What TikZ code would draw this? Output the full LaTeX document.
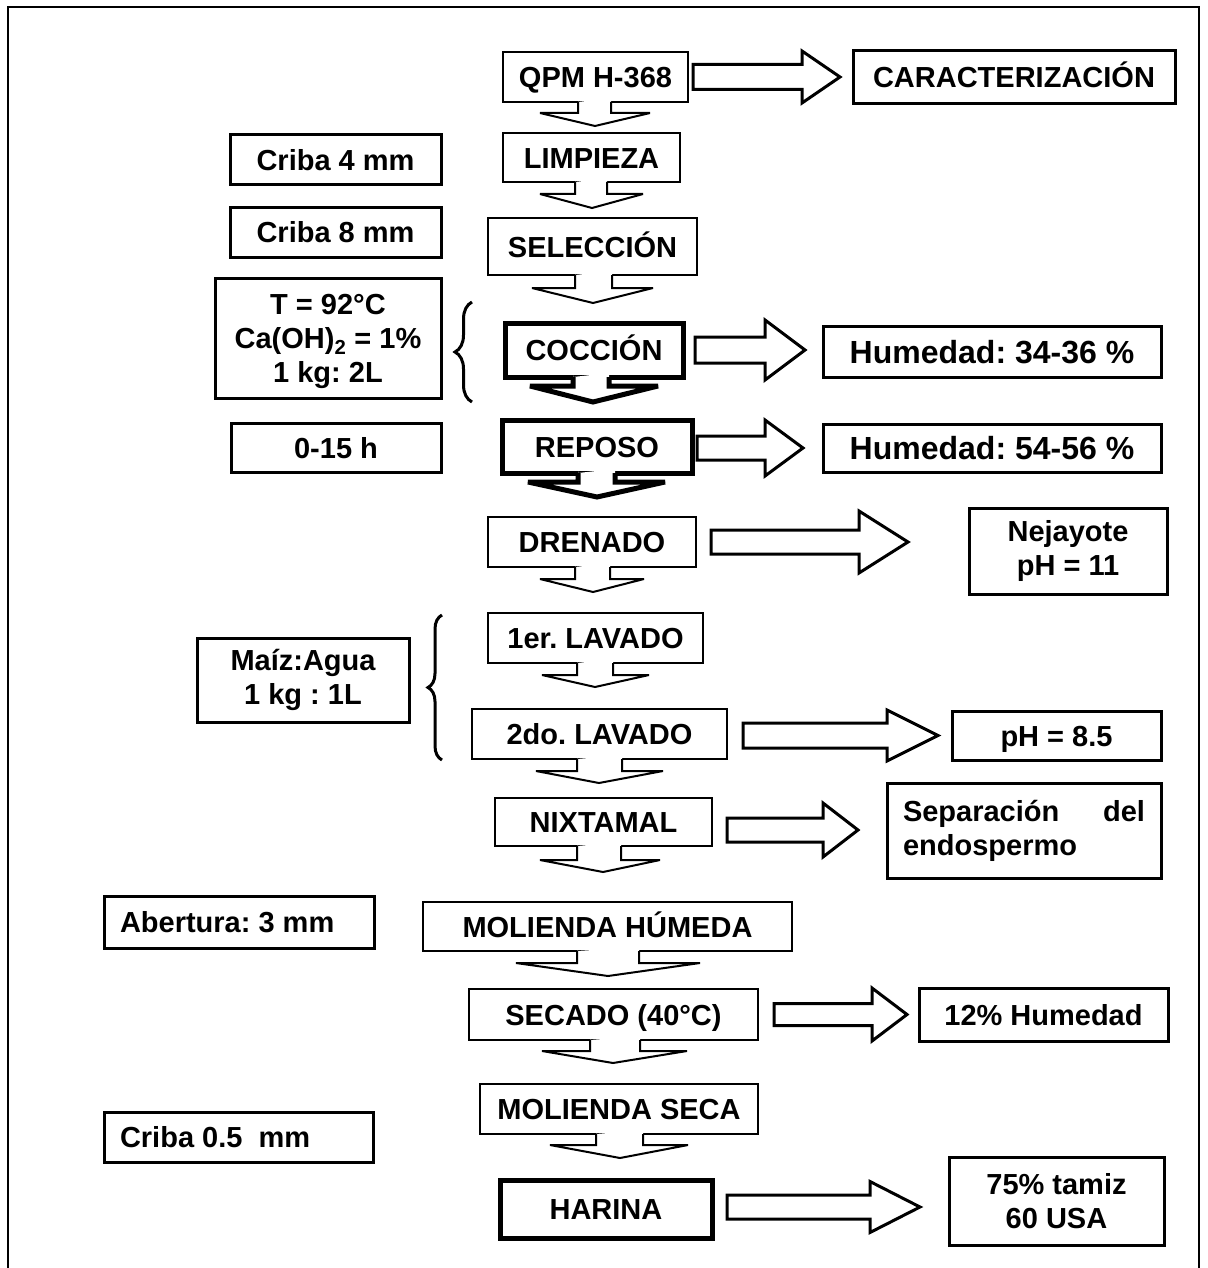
\documentclass[tikz,border=0pt]{standalone}
\usepackage{fontspec}
\setmainfont{Liberation Sans}
\usetikzlibrary{calc,decorations.pathreplacing}
% single-line box: [style]{x1}{y1}{x2}{y2}{name}{text}
\newcommand\bx[7][]{\node[sl, #1, minimum width={(#4-#2)*1pt}, minimum height={(#5-#3)*1pt}] (#6) at ({(#2+#4)/2},{(#3+#5)/2}) {#7};}
% multi-line box
\newcommand\bxm[7][]{\node[align=center, #1, minimum width={(#4-#2)*1pt}, minimum height={(#5-#3)*1pt}] (#6) at ({(#2+#4)/2},{(#3+#5)/2}) {#7};}
% down block arrow: {src}{shaftL}{shaftR}{headL}{headR}{headY}{tipX}{tipY}{style}
\newcommand\darr[9]{%
  \fill[white] (#1.south -| #2,0) -- ++(0,-4) -- (#2,#6) -- (#4,#6) -- (#7,#8) -- (#5,#6) -- (#3,#6) -- (#1.south -| #3,0) -- ++(0,-4) -- cycle;
  \draw[#9] (#1.south -| #2,0) -- (#2,#6) -- (#4,#6) -- (#7,#8) -- (#5,#6) -- (#3,#6) -- (#1.south -| #3,0);}
% right block arrow: {src}{dst}{gap1}{gap2}{headlen}{dy}{shaft half}{head half}
\newcommand\rarr[8]{%
  \draw[harrow] let \p1=(#1.east), \p2=(#2.west), \p3=(#1.center) in
    ({\x1+#3pt},{\y3-#6pt+#7pt}) -- ({\x2-#4pt-#5pt},{\y3-#6pt+#7pt}) -- ({\x2-#4pt-#5pt},{\y3-#6pt+#8pt})
    -- ({\x2-#4pt},{\y3-#6pt}) -- ({\x2-#4pt-#5pt},{\y3-#6pt-#8pt}) -- ({\x2-#4pt-#5pt},{\y3-#6pt-#7pt})
    -- ({\x1+#3pt},{\y3-#6pt-#7pt}) -- cycle;}
\begin{document}
\frenchspacing
\begin{tikzpicture}[x=1pt,y=-1pt,
  every node/.style={font=\fontsize{29}{34}\selectfont\bfseries\frenchspacing, inner sep=0pt, outer sep=0pt},
  sl/.style={text height=21pt, text depth=0pt},
  thinbox/.style={draw, line width=2pt, fill=white},
  midbox/.style={draw, line width=3pt, fill=white},
  thickbox/.style={draw, line width=5pt, fill=white},
  bigtext/.style={font=\fontsize{32}{36}\selectfont\bfseries\frenchspacing, text height=23pt},
  harrow/.style={line width=3pt, fill=white, line join=miter, miter limit=5},
  varrow/.style={line width=2pt, line join=miter, miter limit=6},
  tvarrow/.style={line width=5pt, line join=miter, miter limit=4},
  bracestyle/.style={line width=3pt, decorate}
]
\useasboundingbox (0,0) rectangle (1207,1268);
\draw[line width=2pt] (8,1268) -- (8,7) -- (1199,7) -- (1199,1268);

% central column
\bx[thinbox]{503}{52}{688}{102}{qpm}{QPM H-368}
\bx[thinbox]{503}{133}{680}{182}{lim}{LIMPIEZA}
\bx[thinbox]{488}{218}{697}{275}{sel}{SELECCIÓN}
\bx[thickbox]{505}{323}{683}{377}{coc}{COCCIÓN}
\bx[thickbox]{502}{420}{692}{473}{rep}{REPOSO}
\bx[thinbox]{488}{517}{696}{567}{dre}{DRENADO}
\bx[thinbox]{488}{613}{703}{663}{lav1}{1er. LAVADO}
\bx[thinbox]{472}{709}{727}{759}{lav2}{2do. LAVADO}
\bx[thinbox]{495}{798}{712}{846}{nix}{NIXTAMAL}
\bx[thinbox]{423}{902}{792}{951}{mh}{MOLIENDA HÚMEDA}
\bx[thinbox]{469}{989}{758}{1040}{sec}{SECADO (40°C)}
\bx[thinbox]{480}{1084}{758}{1134}{ms}{MOLIENDA SECA}
\bx[thickbox]{500}{1180}{712}{1238}{har}{HARINA}

% left column
\bx[midbox]{230}{135}{441}{185}{cr4}{Criba 4 mm}
\bx[midbox]{230}{207}{441}{257}{cr8}{Criba 8 mm}
\bxm[midbox]{215}{278}{441}{398}{cond}{\raisebox{-4pt}[\height][\depth]{\begin{tabular}{@{}c@{}}T = 92°C\\Ca(OH)\textsubscript{2} = 1\%\\1 kg: 2L\end{tabular}}}
\bx[midbox]{231}{423}{441}{472}{hrs}{0-15 h}
\bxm[midbox]{197}{638}{409}{722}{mai}{Maíz:Agua\\1 kg : 1L}
\bx[midbox]{104}{896}{374}{948}{abe}{\makebox[238pt][l]{Abertura: 3 mm}}
\bx[midbox]{104}{1112}{373}{1162}{cr05}{\makebox[237pt][l]{Criba 0.5\ \ mm}}

% right column
\bx[midbox]{853}{51}{1175}{104}{car}{CARACTERIZACIÓN}
\bx[midbox, bigtext]{823}{326}{1161}{377}{h34}{Humedad: 34-36 \%}
\bx[midbox, bigtext]{823}{424}{1161}{472}{h54}{Humedad: 54-56 \%}
\bxm[midbox]{969}{508}{1167}{594}{nej}{Nejayote\\pH = 11}
\bx[midbox]{952}{711}{1161}{760}{ph}{pH = 8.5}
\bxm[midbox]{887}{783}{1161}{878}{sep}{\makebox[242pt][l]{Separación\hfill del}\\\makebox[242pt][l]{endospermo}}
\bx[midbox]{919}{988}{1168}{1041}{h12}{12\% Humedad}
\bxm[midbox]{949}{1157}{1164}{1245}{tam}{75\% tamiz\\60 USA}

% braces
\draw[bracestyle, decoration={brace, amplitude=17pt}] (472,402) -- (472,302);
\draw[bracestyle, decoration={brace, amplitude=14pt}] (442,760) -- (442,615);

% down arrows
\darr{qpm}{578}{611}{540}{650}{113}{595}{126}{varrow}
\darr{lim}{575}{607}{540}{643}{194}{592}{208}{varrow}
\darr{sel}{575}{612}{532}{653}{288}{593}{303}{varrow}
\darr{coc}{573}{609}{530}{658}{386}{593}{402}{tvarrow}
\darr{rep}{578}{615}{528}{665}{482}{597}{497}{tvarrow}
\darr{dre}{575}{610}{540}{644}{579}{593}{592}{varrow}
\darr{lav1}{577}{613}{542}{649}{675}{595}{687}{varrow}
\darr{lav2}{577}{622}{536}{663}{771}{599}{783}{varrow}
\darr{nix}{577}{621}{540}{660}{860}{603}{872}{varrow}
\darr{mh}{577}{639}{516}{700}{963}{608}{976}{varrow}
\darr{sec}{590}{640}{542}{687}{1051}{613}{1063}{varrow}
\darr{ms}{596}{643}{550}{688}{1145}{620}{1158}{varrow}

% right arrows
\rarr{qpm}{car}{5}{13}{38}{0}{12.5}{26}
\rarr{coc}{h34}{12}{18}{40}{0}{13}{30}
\rarr{rep}{h54}{5}{20}{38}{1.5}{12}{28}
\rarr{dre}{nej}{15}{61}{49}{0}{12}{31}
\rarr{lav2}{ph}{16}{14}{51}{1.5}{12.5}{25.5}
\rarr{nix}{sep}{15}{29}{35}{8}{12}{27}
\rarr{sec}{h12}{16}{12}{35}{0}{11}{26.5}
\rarr{har}{tam}{15}{29}{50}{-2}{12}{25.5}
\end{tikzpicture}
\end{document}
